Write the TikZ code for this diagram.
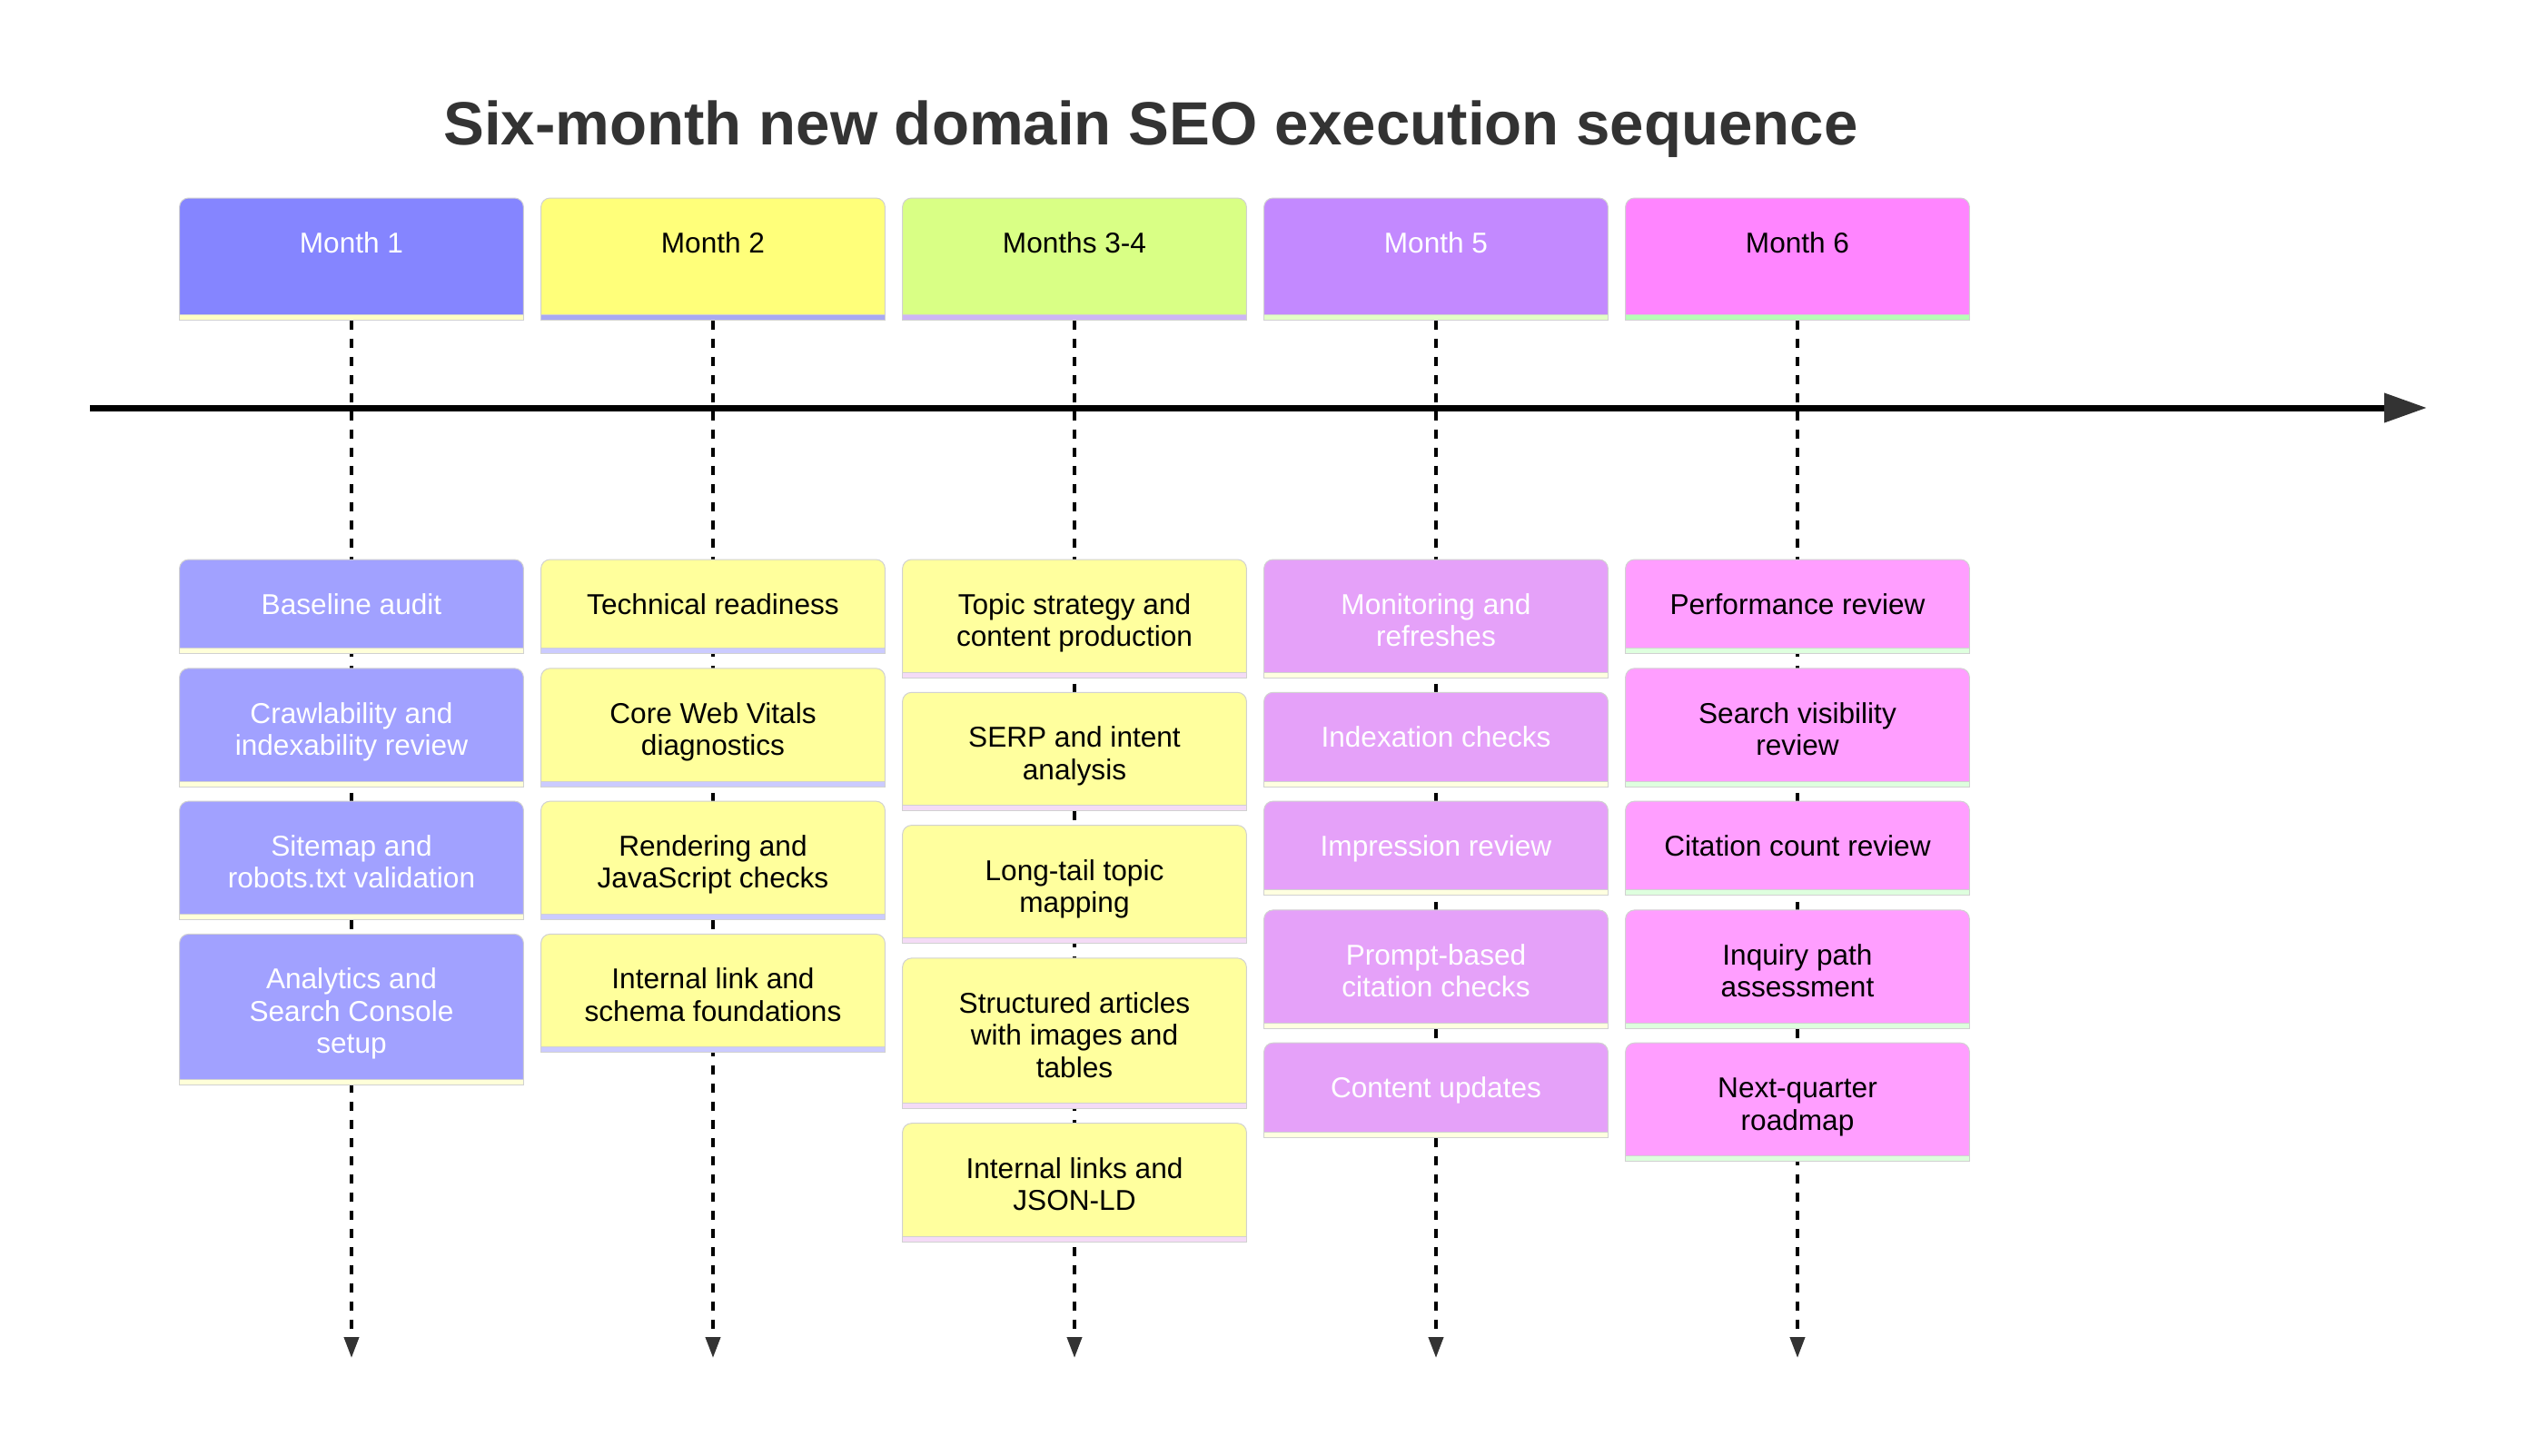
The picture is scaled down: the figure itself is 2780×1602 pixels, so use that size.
\documentclass[tikz,border=0pt]{standalone}
\usepackage{fontspec}
\setmainfont{Liberation Sans}
\usepackage{tikz}
\usetikzlibrary{arrows.meta,positioning,backgrounds}
\usepackage{xcolor}
\definecolor{titlegray}{HTML}{333333}
\definecolor{arrowgray}{HTML}{333333}
\definecolor{hdrone}{HTML}{8585FF}
\definecolor{hdrtwo}{HTML}{FFFF7A}
\definecolor{hdrthree}{HTML}{D9FF85}
\definecolor{hdrfour}{HTML}{C389FF}
\definecolor{hdrfive}{HTML}{FF85FF}
\definecolor{shdrone}{HTML}{FFFFC4}
\definecolor{shdrtwo}{HTML}{A9A9F2}
\definecolor{shdrthree}{HTML}{CDB5F5}
\definecolor{shdrfour}{HTML}{E3FFC6}
\definecolor{shdrfive}{HTML}{B5FFB5}
\definecolor{taskone}{HTML}{A1A1FF}
\definecolor{tasktwo}{HTML}{FFFF9C}
\definecolor{taskthree}{HTML}{FFFF9E}
\definecolor{taskfour}{HTML}{E5A1F9}
\definecolor{taskfive}{HTML}{FF9EFF}
\definecolor{staskone}{HTML}{FFFFD9}
\definecolor{stasktwo}{HTML}{CBCBFF}
\definecolor{staskthree}{HTML}{F4DBF6}
\definecolor{staskfour}{HTML}{FFFFE0}
\definecolor{staskfive}{HTML}{DEFFDE}
\tikzset{
    cardtxt/.style={rectangle, minimum width=189pt, inner sep=0pt, align=center,
                    font=\fontsize{15.8}{17.7}\selectfont, text=#1},
    hdr/.style={cardtxt=#1, minimum height=64pt, text height=30.25pt, text depth=33.75pt},
    oneline/.style={minimum height=48.5pt, text height=30pt, text depth=18.5pt},
    twoline/.style={minimum height=61.75pt, text height=47.7pt, text depth=14.05pt},
    threeline/.style={minimum height=79.5pt, text height=65.4pt, text depth=14.1pt},
    card/.style={fill=#1, draw=black!18, line width=0.5pt, rounded corners=5pt},
    stripe/.style={fill=#1, draw=black!18, line width=0.5pt},
    tline/.style={-{Triangle[length=23.5pt,width=15.5pt,color=arrowgray]}, line width=3.5pt},
    vline/.style={-{Triangle[length=11.5pt,width=8pt,color=arrowgray]}, line width=2pt,
                  dash pattern=on 5pt off 5pt},
}
\begin{document}
\begin{tikzpicture}[x=0.5pt, y=-0.5pt, node distance=11pt]
    \path[use as bounding box] (0,0) rectangle (2780,1602);
    \node[font=\fontsize{33.6}{40}\selectfont\bfseries, text=titlegray, anchor=base]
        (title) at (1267,159) {Six-month new domain SEO execution sequence};

    % period headers
    \node[hdr=white, anchor=north] (m1) at (387,218) {Month 1};
    \node[hdr=black, anchor=north] (m2) at (785,218) {Month 2};
    \node[hdr=black, anchor=north] (m3) at (1183,218) {Months 3-4};
    \node[hdr=white, anchor=north] (m4) at (1581,218) {Month 5};
    \node[hdr=black, anchor=north] (m5) at (1979,218) {Month 6};

    % timeline
    \coordinate (t0) at (99,449);
    \coordinate (t1) at (2672,449);
    \draw[tline] (t0) -- (t1);

    % Month 1
    \node[cardtxt=white, oneline, anchor=north] (a1) at (387,616) {Baseline audit};
    \node[cardtxt=white, twoline, below=of a1] (a2) {Crawlability and\\indexability review};
    \node[cardtxt=white, twoline, below=of a2] (a3) {Sitemap and\\robots.txt validation};
    \node[cardtxt=white, threeline, below=of a3] (a4) {Analytics and\\Search Console\\setup};

    % Month 2
    \node[cardtxt=black, oneline, anchor=north] (b1) at (785,616) {Technical readiness};
    \node[cardtxt=black, twoline, below=of b1] (b2) {Core Web Vitals\\diagnostics};
    \node[cardtxt=black, twoline, below=of b2] (b3) {Rendering and\\JavaScript checks};
    \node[cardtxt=black, twoline, below=of b3] (b4) {Internal link and\\schema foundations};

    % Months 3-4
    \node[cardtxt=black, twoline, anchor=north] (c1) at (1183,616) {Topic strategy and\\content production};
    \node[cardtxt=black, twoline, below=of c1] (c2) {SERP and intent\\analysis};
    \node[cardtxt=black, twoline, below=of c2] (c3) {Long-tail topic\\mapping};
    \node[cardtxt=black, threeline, below=of c3] (c4) {Structured articles\\with images and\\tables};
    \node[cardtxt=black, twoline, below=of c4] (c5) {Internal links and\\JSON-LD};

    % Month 5
    \node[cardtxt=white, twoline, anchor=north] (d1) at (1581,616) {Monitoring and\\refreshes};
    \node[cardtxt=white, oneline, below=of d1] (d2) {Indexation checks};
    \node[cardtxt=white, oneline, below=of d2] (d3) {Impression review};
    \node[cardtxt=white, twoline, below=of d3] (d4) {Prompt-based\\citation checks};
    \node[cardtxt=white, oneline, below=of d4] (d5) {Content updates};

    % Month 6
    \node[cardtxt=black, oneline, anchor=north] (e1) at (1979,616) {Performance review};
    \node[cardtxt=black, twoline, below=of e1] (e2) {Search visibility\\review};
    \node[cardtxt=black, oneline, below=of e2] (e3) {Citation count review};
    \node[cardtxt=black, twoline, below=of e3] (e4) {Inquiry path\\assessment};
    \node[cardtxt=black, twoline, below=of e4] (e5) {Next-quarter\\roadmap};

    \begin{scope}[on background layer]
        \fill[white] (0,0) rectangle (2780,1602);
        % dashed drop lines
        \foreach \n/\x in {m1/387, m2/785, m3/1183, m4/1581, m5/1979} {
            \coordinate (v\n) at (\x,1495);
            \draw[vline] ([yshift=-3pt]\n.south) -- (v\n);
        }
        % header cards
        \foreach \n/\c/\s in {m1/hdrone/shdrone, m2/hdrtwo/shdrtwo, m3/hdrthree/shdrthree,
                              m4/hdrfour/shdrfour, m5/hdrfive/shdrfive} {
            \filldraw[card=\c] (\n.south west) -- (\n.north west) -- (\n.north east) -- (\n.south east);
            \filldraw[stripe=\s] (\n.south west) rectangle ([yshift=-3pt]\n.south east);
        }
        % task cards
        \foreach \col/\num/\c/\s in {a/4/taskone/staskone, b/4/tasktwo/stasktwo,
                                     c/5/taskthree/staskthree, d/5/taskfour/staskfour,
                                     e/5/taskfive/staskfive} {
            \foreach \k in {1,...,\num} {
                \filldraw[card=\c] (\col\k.south west) -- (\col\k.north west)
                    -- (\col\k.north east) -- (\col\k.south east);
                \filldraw[stripe=\s] (\col\k.south west) rectangle ([yshift=-3pt]\col\k.south east);
            }
        }
    \end{scope}
\end{tikzpicture}
\end{document}
